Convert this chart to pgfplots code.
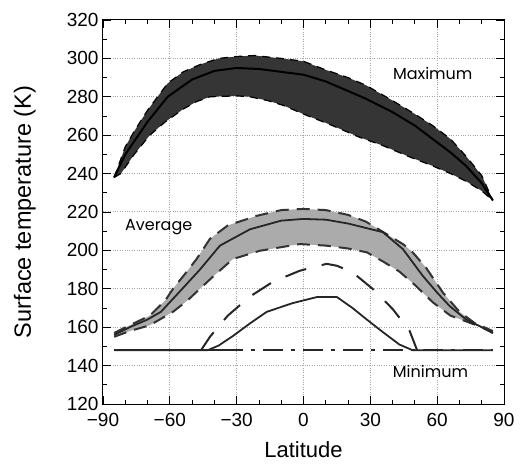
\documentclass[border=0pt]{standalone}
\usepackage{pgfplots}
\pgfplotsset{compat=1.18}
\usepgfplotslibrary{fillbetween}
\usepackage{fontspec}
\setmainfont{Liberation Sans}
\newfontfamily\geo{Poppins}

\definecolor{maxfill}{HTML}{353535}
\definecolor{avgfill}{HTML}{ABABAB}

% maximum temperature band
\pgfplotstableread{
lat T
-85 238
-80 254
-76 262
-70 273
-61 287
-54 293
-46 297
-38 300
-30 301
-22 301.5
-10 300
0 298.5
10 294
20 290
28 286
40 278
50 271
58 265
66 258
73 249
80 239
85 226
}\maxup
\pgfplotstableread{
lat T
-85 238
-82 240
-76 250
-69 260
-62 267
-54 273.6
-48 277.5
-42 280
-30 280.5
-24 280
-16 278
-9 275.5
0 271
13 265
25 259
35.6 254.6
47 249
58 244
66 240
73 236
80 231
85 226
}\maxlo
\pgfplotstableread{
lat T
-85 238
-80 250
-70 267
-61 280
-50 289
-40 293.5
-30 295
-20 294.5
-10 293
0 291.5
10 288
20 283
28 279
40 272
50 265
58 258
66 251
73 244
80 235
85 226
}\maxmid

% average temperature band
\pgfplotstableread{
lat T
-85 157
-78 161
-69 166
-62 174
-58.6 180
-53 188
-48 195.5
-42 206
-34 213
-21 218
-10 221
0 221.6
10 221
20 218.5
28 215
38 208
45 203
49 199
55 191
62.6 178
70 168
77 162
85 158
}\avgup
\pgfplotstableread{
lat T
-85 156
-78 160
-70 164
-64 168
-56 178
-46.5 190
-37.5 202.5
-24 211
-10 215.5
0 216.4
10 216
20 214
35.6 209.5
44.6 200.7
53.5 186.8
60 178
65.6 171
73 164
80 160
85 157
}\avgmid
\pgfplotstableread{
lat T
-85 155
-78 158
-69 161
-58.6 168
-52 174
-46.5 180
-40 187
-31.7 195.5
-19.6 199.8
-1.7 203.3
10 202.5
20 201
28.4 199
36 194
43 189
50 182
58 173
66 166
73 163
80 160
85 157
}\avglo

% minimum curves
\pgfplotstableread{
lat T
-46 148
-42 155
-34 166
-24 176
-13.8 183.6
-1.7 189.4
10.4 193
15 192
22 188.6
31 180
40 169.5
47.6 158.2
51 148
}\mindash
\pgfplotstableread{
lat T
-85 148
-43 148
-38 150.5
-31.7 155.4
-24 162
-16.5 168
-5 172.5
6 175.7
15 175.7
22 170
28.4 164
35 158
43 151
49 148
85 148
}\minsolid

\begin{document}
\begin{tikzpicture}
\begin{axis}[
    scale only axis,
    width=401pt, height=384pt,
    xmin=-90, xmax=90, ymin=120, ymax=320,
    xtick={-90,-60,...,90},
    xticklabels={−90,−60,−30,0,30,60,90},
    ytick={120,140,...,320},
    /pgf/number format/assume math mode=true,
    minor x tick num=2,
    minor y tick num=1,
    tick align=inside,
    major tick length=8pt,
    minor tick length=4pt,
    tick style={black, line width=0.8pt},
    axis line style={line width=1pt},
    grid=major,
    major grid style={gray!70, dotted, line width=1pt},
    tick label style={font=\fontsize{19}{22}\selectfont},
    yticklabel style={xshift=-1pt},
    xticklabel style={yshift=-6pt},
    xlabel style={font=\fontsize{22}{25}\selectfont},
    ylabel style={font=\fontsize{23.5}{26}\selectfont},
    xlabel={Latitude},
    ylabel={Surface temperature (K)},
    xlabel style={at={(axis description cs:0.5,-0.118)}, anchor=center},
    ylabel style={at={(axis description cs:-0.195,0.5)}, anchor=center},
]
% maximum
\addplot[name path=mu, draw=none] table {\maxup};
\addplot[name path=ml, draw=none] table {\maxlo};
\addplot[maxfill] fill between[of=mu and ml];
\addplot[black, line width=1.2pt, dash pattern=on 8pt off 6pt] table {\maxup};
\addplot[black, line width=1.2pt, dash pattern=on 8pt off 6pt] table {\maxlo};
\addplot[black, line width=2pt] table {\maxmid};

% average
\addplot[name path=au, draw=none] table {\avgup};
\addplot[name path=al, draw=none] table {\avglo};
\addplot[avgfill] fill between[of=au and al];
\addplot[black!80, line width=2pt, dash pattern=on 13pt off 8pt] table {\avgup};
\addplot[black!80, line width=2pt, dash pattern=on 13pt off 8pt] table {\avglo};
\addplot[black!85, line width=1.8pt] table {\avgmid};

% minimum
\addplot[black!85, line width=2pt, dash pattern=on 22pt off 16pt] table {\mindash};
\addplot[black!85, line width=1.8pt] table {\minsolid};
\addplot[black!85, line width=2pt, dash pattern=on 20pt off 8pt on 4pt off 8pt]
    coordinates {(-36,148) (85,148)};
\addplot[black!85, line width=2pt] coordinates {(-85,148) (-36,148)};

\node[font=\geo\fontsize{16}{19}\selectfont] at (axis cs:58,292) {Maximum};
\node[font=\geo\fontsize{16}{19}\selectfont] at (axis cs:-65,212) {Average};
\node[font=\geo\fontsize{16}{19}\selectfont] at (axis cs:57,137) {Minimum};
\end{axis}
\pgfresetboundingbox
\path[use as bounding box] ([shift={(-103pt,-60pt)}]current axis.south west)
    rectangle ([shift={(16pt,20pt)}]current axis.north east);
\end{tikzpicture}
\end{document}
